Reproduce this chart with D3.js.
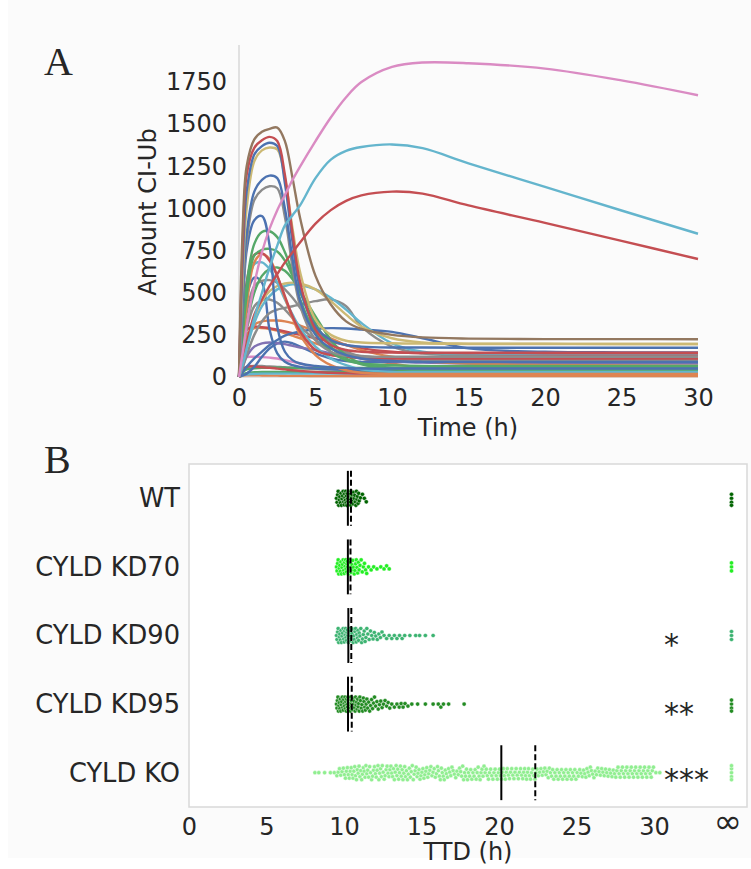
<!DOCTYPE html>
<html>
<head>
<meta charset="utf-8">
<script src="https://d3js.org/d3.v7.min.js"></script>
<style>
  body { margin: 0; background: #fff; }
  text { font-family: "DejaVu Sans", sans-serif; fill: #262626; }
</style>
</head>
<body>
<div id="my_dataviz"></div>
<script>

// ---------- panel A data: amount of CI-Ub over time ----------
var times = [0, 0.25, 0.5, 1, 1.5, 2, 2.5, 3, 3.5, 4, 5, 6, 7, 8, 10, 12, 15, 20, 25, 30];
var amountTicks = [0, 250, 500, 750, 1000, 1250, 1500, 1750];
var timeTicks = [0, 5, 10, 15, 20, 25, 30];

// low, flat runs
var lowSeries = [
  [0,8,10,10,9,8,8,7,7,7,6,6,6,6,6,6,6,6,6,6],
  [0,15,22,28,30,30,30,30,30,30,30,30,30,30,30,30,30,30,30,30],
  [0,10,15,18,20,20,20,20,20,20,20,20,20,20,20,20,20,20,20,20],
  [0,150,250,290,290,285,275,260,245,230,200,170,140,110,80,55,35,22,18,18],
  [0,100,118,120,118,115,110,100,90,80,60,50,45,42,41,41,41,41,41,41],
  [0,50,60,65,65,62,60,58,55,52,48,45,43,41,41,41,41,41,41,41],
  [0,30,45,52,55,55,55,54,54,53,53,53,53,53,53,53,53,53,53,53],
  [0,40,60,62,58,55,50,45,40,36,30,25,22,20,20,20,20,20,20,20],
  [0,10,20,60,120,170,200,210,200,180,140,110,95,90,89,89,89,89,89,89],
  [0,60,120,180,200,205,200,195,185,175,160,140,125,110,95,85,80,80,80,80],
  [0,200,280,300,295,290,280,270,260,250,230,210,190,170,150,140,132,130,130,130],
  [0,120,220,310,330,335,335,330,320,305,270,230,190,160,120,95,80,72,68,65],
  [0,30,60,110,150,190,220,245,260,270,285,290,288,282,268,230,170,150,146,145]
];
var lowColors = ["#DD8452","#55A868","#64B5CD","#DD8452","#DA8BC3","#8C8C8C","#55A868",
  "#C44E52","#4C72B0","#8172B3","#C44E52","#DD8452","#4C72B0"];

// medium humps
var humpSeries = [
  [0,150,280,420,455,460,440,400,350,300,220,170,140,125,115,105,100,100,100,100],
  [0,300,480,590,560,280,140,90,70,60,50,45,42,40,40,40,40,40,40,40],
  [0,60,130,250,330,380,400,410,420,430,450,460,420,300,180,140,125,120,120,120],
  [0,80,170,320,420,480,520,540,550,545,520,470,400,320,200,150,140,140,140,140],
  [0,100,200,350,450,510,540,555,560,555,520,450,370,300,230,205,198,197,196,196],
  [0,200,380,540,570,575,560,520,470,410,290,200,150,120,100,100,100,100,100,100],
  [0,150,300,500,600,640,650,630,580,510,360,220,130,80,45,41,41,41,41,41],
  [0,250,480,670,680,640,560,460,370,290,180,110,70,45,30,30,30,30,30,30],
  [0,200,420,680,730,700,600,470,350,250,130,70,40,25,18,18,18,18,18,18],
  [0,300,560,725,735,690,600,480,360,270,160,130,120,115,110,110,110,110,110,110],
  [0,250,480,720,755,760,745,690,600,500,320,180,110,75,55,53,53,53,53,53],
  [0,300,550,790,860,865,830,740,620,460,260,150,100,80,70,65,65,65,65,65],
  [0,400,750,930,955,780,300,150,100,80,65,58,54,50,50,50,50,50,50,50]
];
var humpColors = ["#8C8C8C","#4C72B0","#8C8C8C","#64B5CD","#CCB974","#8C8C8C","#55A868",
  "#64B5CD","#DD8452","#C44E52","#55A868","#55A868","#4C72B0"];

// tall fast peaks
var peakSeries = [
  [0,450,800,1050,1110,1132,1120,950,650,420,220,150,125,120,120,120,120,120,120,120],
  [0,500,850,1100,1170,1195,1180,1000,700,450,250,170,130,110,95,90,89,89,89,89],
  [0,600,1000,1280,1345,1362,1350,1180,880,620,340,250,215,205,200,198,196,196,196,196],
  [0,700,1100,1320,1370,1390,1370,1150,800,520,300,220,190,180,175,175,174,174,174,174],
  [0,800,1200,1360,1405,1425,1400,1200,850,560,280,190,160,150,145,144,144,144,144,144],
  [0,900,1250,1410,1455,1472,1480,1400,1180,940,600,430,330,285,250,235,228,225,225,224]
];
var peakColors = ["#8C8C8C","#4C72B0","#CCB974","#4C72B0","#C44E52","#937860"];

// slow, long lasting
var slowSeries = [
  [0,100,200,370,460,540,610,680,740,800,910,990,1045,1078,1100,1088,1018,915,808,700],
  [0,80,170,350,500,650,780,900,960,1020,1180,1290,1342,1365,1380,1358,1268,1128,988,850],
  [0,150,300,550,740,880,990,1080,1170,1250,1400,1540,1660,1750,1840,1866,1862,1830,1760,1672]
];
var slowColors = ["#C44E52","#64B5CD","#DA8BC3"];

// ---------- panel B data: time to death ----------
var conditions = ["WT", "CYLD KD70", "CYLD KD90", "CYLD KD95", "CYLD KO"];
var dotColors = ["#006400", "#22ee22", "#3CB371", "#228B22", "#90EE90"];
var binStarts = [9.5, 9.5, 9.5, 9.5, 8.0];   // first 0.5 h bin of each row
var wtCounts   = [14, 20, 14, 4];
var kd70Counts = [14, 17, 11, 7, 3, 2, 3];
var kd90Counts = [14, 17, 13, 9, 6, 5, 3, 3, 3, 1, 2, 1, 1];
var kd95Counts = [16, 19, 15, 11, 8, 6, 5, 3, 4, 2, 1, 1, 1, 3, 1, 0, 1];
var koCounts   = [2, 1, 2, 6, 8, 9, 9, 8, 9, 8, 9, 9, 8, 8, 8, 7, 8, 7, 6, 8, 7, 8, 7,
                  7, 8, 7, 7, 8, 7, 6, 7, 7, 7, 7, 6, 7, 6, 6, 6, 7, 7, 7, 7, 7, 2];
var infCounts = [4, 3, 3, 4, 5];
var medians = [10.25, 10.25, 10.28, 10.26, 20.15];
var means   = [10.45, 10.42, 10.47, 10.50, 22.34];
var stars = ["", "", "*", "**", "***"];
var ttdTicks = [0, 5, 10, 15, 20, 25, 30, 35];
var ttdTickLabels = ["0", "5", "10", "15", "20", "25", "30", "\u221E"];
var infValue = 35;

var svg = d3.select("#my_dataviz")
  .append("svg")
    .attr("width", 751)
    .attr("height", 869);

svg.append("rect").attr("x", 8).attr("y", 0).attr("width", 743).attr("height", 858).attr("fill", "#fbfbfb");

// ================= panel A =================
var x = d3.scaleLinear().domain([0, 30]).range([239, 698]);
var y = d3.scaleLinear().domain([0, 1970]).range([377, 45]);

svg.append("line").attr("x1", 239).attr("x2", 239).attr("y1", 45).attr("y2", 377)
  .attr("stroke", "#d9d9d9").attr("stroke-width", 1.5);
svg.append("line").attr("x1", 239).attr("x2", 698).attr("y1", 377).attr("y2", 377)
  .attr("stroke", "#d9d9d9").attr("stroke-width", 1.5);

var line = d3.line()
  .x(function(d, i) { return x(times[i]); })
  .y(function(d) { return y(d); })
  .curve(d3.curveCatmullRom.alpha(0.5));

function drawLines(series, colors) {
  svg.append("g").selectAll("path")
    .data(series)
    .enter()
    .append("path")
      .attr("d", line)
      .attr("fill", "none")
      .attr("stroke", function(d, i) { return colors[i]; })
      .attr("stroke-width", 2.4)
      .attr("stroke-linejoin", "round");
}
drawLines(lowSeries, lowColors);
drawLines(humpSeries, humpColors);
drawLines(peakSeries, peakColors);
drawLines(slowSeries, slowColors);

var xAxisA = svg.append("g")
  .attr("transform", "translate(0,377)")
  .call(d3.axisBottom(x).tickValues(timeTicks).tickSize(0).tickPadding(12));
var yAxisA = svg.append("g")
  .attr("transform", "translate(239,0)")
  .call(d3.axisLeft(y).tickValues(amountTicks).tickFormat(d3.format("d")).tickSize(0).tickPadding(12));
[xAxisA, yAxisA].forEach(function(a) {
  a.select(".domain").remove();
  a.selectAll("text").style("font-size", "24px").style("font-family", "DejaVu Sans").attr("fill", "#262626");
});

svg.append("text").attr("x", 468).attr("y", 436).attr("text-anchor", "middle")
  .style("font-size", "24px").text("Time (h)");
svg.append("text").attr("transform", "translate(156,212) rotate(-90)").attr("text-anchor", "middle")
  .style("font-size", "24px").text("Amount CI-Ub");
svg.append("text").attr("x", 44).attr("y", 75)
  .style("font-family", "Liberation Serif, serif").style("font-size", "40px").attr("fill", "#000").text("A");

// ================= panel B =================
var xb = d3.scaleLinear().domain([0, 36]).range([189, 747]);
var yb = d3.scaleBand().domain(conditions).range([464, 807]).padding(0);
var bw = yb.bandwidth();

svg.append("rect").attr("x", 189).attr("y", 464).attr("width", 558).attr("height", 343)
  .attr("fill", "#fff").attr("stroke", "#d9d9d9").attr("stroke-width", 1.5);

var countsByRow = [wtCounts, kd70Counts, kd90Counts, kd95Counts, koCounts];

// simple beeswarm: stack dots vertically around the row centre
function swarm(xs, gap, maxOff) {
  var order = xs.map(function(d, i) { return i; }).sort(function(a, b) { return xs[a] - xs[b]; });
  var offs = [0];
  for (var k = 0.5; k <= maxOff; k += 0.5) { offs.push(k, -k); }
  var placed = [], ys = new Array(xs.length);
  order.forEach(function(i) {
    var px = xs[i], best = 0, bestD = -1;
    var near = placed.filter(function(p) { return Math.abs(p.x - px) < gap; });
    for (var j = 0; j < offs.length; j++) {
      var o = offs[j], dmin = Infinity;
      near.forEach(function(p) {
        var d = Math.hypot(p.x - px, p.y - o);
        if (d < dmin) dmin = d;
      });
      if (dmin >= gap) { best = o; break; }
      if (dmin > bestD) { bestD = dmin; best = o; }
    }
    ys[i] = best;
    placed.push({x: px, y: best});
  });
  return ys;
}

var starDy = [0, 0, 19, 20, 17];

conditions.forEach(function(c, row) {
  var cy = yb(c) + bw / 2;
  var vals = [];
  countsByRow[row].forEach(function(n, b) {
    for (var j = 0; j < n; j++) {
      vals.push(binStarts[row] + b * 0.5 + (j + 0.5) / n * 0.5);
    }
  });
  for (var k = 0; k < infCounts[row]; k++) vals.push(infValue);
  var xs = vals.map(function(v) { return xb(v); });
  var ys = swarm(xs, 3.6, 7);
  svg.append("g").selectAll("circle")
    .data(vals)
    .enter()
    .append("circle")
      .attr("cx", function(d, i) { return xs[i]; })
      .attr("cy", function(d, i) { return cy + ys[i]; })
      .attr("r", 2.1)
      .attr("fill", dotColors[row])
      .attr("stroke", "#fff")
      .attr("stroke-width", 0.4);

  svg.append("line")
    .attr("x1", xb(medians[row])).attr("x2", xb(medians[row]))
    .attr("y1", cy - 0.4 * bw).attr("y2", cy + 0.4 * bw)
    .attr("stroke", "#000").attr("stroke-width", 2);
  svg.append("line")
    .attr("x1", xb(means[row])).attr("x2", xb(means[row]))
    .attr("y1", cy - 0.4 * bw).attr("y2", cy + 0.4 * bw)
    .attr("stroke", "#000").attr("stroke-width", 2).attr("stroke-dasharray", "6,3");

  if (stars[row]) {
    svg.append("text").attr("x", 664).attr("y", cy + starDy[row])
      .style("font-size", "30px").text(stars[row]);
  }
  svg.append("text").attr("x", 180).attr("y", cy).attr("dy", "0.35em").attr("text-anchor", "end")
    .style("font-size", "25.7px").text(c);
});

var xAxisB = svg.append("g")
  .attr("transform", "translate(0,807)")
  .call(d3.axisBottom(xb).tickValues(ttdTicks).tickSize(0).tickPadding(11)
    .tickFormat(function(d, i) { return ttdTickLabels[i]; }));
xAxisB.select(".domain").remove();
xAxisB.selectAll("text").style("font-size", "24px").style("font-family", "DejaVu Sans").attr("fill", "#262626");
xAxisB.selectAll("text").filter(function(d) { return d === infValue; })
  .style("font-size", "34px").attr("dx", "-4").attr("dy", "0.45em");

svg.append("text").attr("x", 468).attr("y", 860).attr("text-anchor", "middle")
  .style("font-size", "24px").text("TTD (h)");
svg.append("text").attr("x", 44).attr("y", 473)
  .style("font-family", "Liberation Serif, serif").style("font-size", "40px").attr("fill", "#000").text("B");

</script>
</body>
</html>
